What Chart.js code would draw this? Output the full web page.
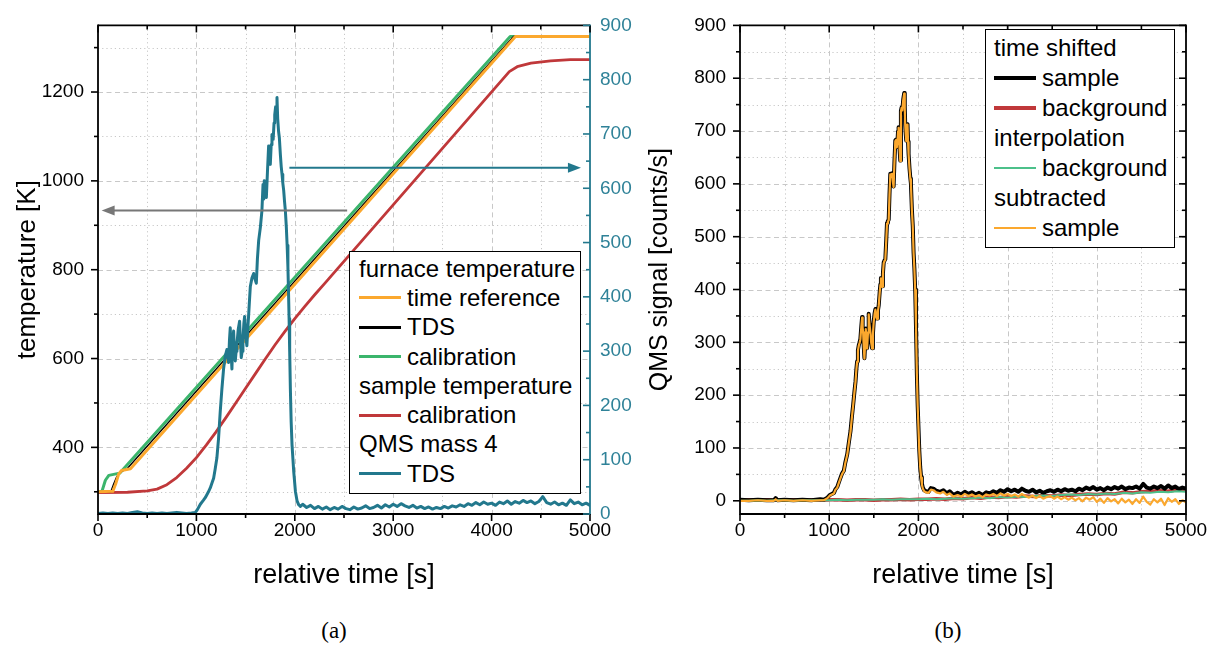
<!DOCTYPE html>
<html>
<head>
<meta charset="utf-8">
<script src="https://cdn.jsdelivr.net/npm/chart.js@4.4.1/dist/chart.umd.min.js"></script>
<style>
  body { margin: 0; background: #fff; font-family: "Liberation Sans", Arial, sans-serif; }
  #page { position: relative; width: 1213px; height: 648px; overflow: hidden; }
  .panel { position: absolute; top: 0; height: 600px; }
  .legend { position: absolute; background: #fff; border: 1.5px solid #000; font-size: 24px; color: #000; box-sizing: border-box; }
  .legend .row { display: flex; align-items: center; white-space: nowrap; }
  .legend .swatch { display: inline-block; width: 42px; margin-right: 6px; }
  .caption { position: absolute; top: 618px; width: 60px; text-align: center; font-family: "Liberation Serif", serif; font-size: 23px; }
</style>
</head>
<body>
<div id="page">
  <div class="panel" style="left:0; width:660px"><canvas id="chartA"></canvas></div>
  <div class="panel" style="left:630px; width:583px"><canvas id="chartB"></canvas></div>
  <div class="legend" id="legendA" style="left:349px; top:251px; width:232px; height:243px; padding:2px 0 0 9px"></div>
  <div class="legend" id="legendB" style="left:985px; top:29px; width:190px; height:219px; padding:3px 0 0 8px"></div>
  <div class="caption" style="left:304px">(a)</div>
  <div class="caption" style="left:918px">(b)</div>
</div>
<script>
// === colours ===
const ORANGE = "#fba82e";
const GREEN = "#3bb56c";
const RED = "#c0383a";
const TEAL = "#22788d";
const TEAL_TXT = "#2f8298";
const GREEN_B = "#4cc08a";

// === axis ticks ===
const timeTicks = [0, 500, 1000, 1500, 2000, 2500, 3000, 3500, 4000, 4500, 5000];
const timeLabels = [0, 1000, 2000, 3000, 4000, 5000];
const tempTicks = [300, 400, 500, 600, 700, 800, 900, 1000, 1100, 1200, 1300];
const tempLabels = [400, 600, 800, 1000, 1200];
const countTicks = [0, 50, 100, 150, 200, 250, 300, 350, 400, 450, 500, 550, 600, 650, 700, 750, 800, 850, 900];
const countLabels = [0, 100, 200, 300, 400, 500, 600, 700, 800, 900];

// === panel (a): furnace + sample temperature [K] ===
const furnaceRefTime = [0, 150, 180, 210, 240, 330, 4242, 5000];
const furnaceRefTemp = [300, 301, 318, 340, 348, 352, 1325, 1325];
const furnaceTdsTime = [0, 130, 160, 190, 230, 300, 4223, 5000];
const furnaceTdsTemp = [300, 300, 318, 334, 344, 353, 1325, 1325];
const furnaceCalTime = [0, 40, 75, 110, 220, 4189, 5000];
const furnaceCalTemp = [300, 301, 326, 337, 342, 1325, 1325];
const sampleCalTime = [0, 300, 500, 600, 700, 800, 900, 1000, 1100, 1200, 1300, 1400, 1500,
  1600, 1700, 1800, 1900, 2000, 2100, 2200, 2300, 4180, 4260, 4400, 4600, 4800, 4990];
const sampleCalTemp = [298, 299, 302, 306, 316, 332, 353, 377, 405, 435, 467, 500, 533,
  566, 599, 631, 661, 690, 717, 743, 768, 1246, 1257, 1265, 1270, 1273, 1273];

// === panel (a): QMS mass 4, TDS [counts/s] ===
const tdsTime = [
  0, 50, 100, 150, 200, 250, 300, 350, 400, 450,
  500, 550, 600, 650, 700, 750, 800, 850, 900,
  950, 990, 1010, 1040, 1070, 1090, 1120, 1141, 1160, 1175,
  1190, 1208, 1225, 1242, 1259, 1276, 1293, 1310, 1320, 1327,
  1336, 1344, 1352, 1361, 1370, 1378, 1387, 1395, 1404, 1412,
  1425, 1439, 1447, 1456, 1465, 1473, 1482, 1490, 1500, 1513,
  1522, 1530, 1540, 1548, 1565, 1582, 1600, 1609, 1620, 1633,
  1650, 1666, 1677, 1684, 1690, 1700, 1711, 1722, 1734, 1742,
  1751, 1760, 1768, 1780, 1789, 1796, 1805, 1812, 1819, 1826,
  1835, 1843, 1853, 1862, 1870, 1878, 1887, 1896, 1904, 1914,
  1922, 1930, 1936, 1942, 1948, 1955, 1963, 1972, 1989, 2006,
  2023, 2040, 2057,
  2080, 2120, 2160, 2200, 2240, 2280, 2320, 2360, 2400, 2440,
  2480, 2520, 2560, 2600, 2640, 2680, 2720, 2760, 2800, 2840,
  2880, 2920, 2960, 3000, 3040, 3080, 3120, 3160, 3200, 3240,
  3280, 3320, 3360, 3400, 3440, 3480, 3520, 3560, 3600, 3640,
  3680, 3720, 3760, 3800, 3840, 3880, 3920, 3960, 4000, 4040,
  4080, 4120, 4160, 4200, 4240, 4280, 4320, 4360, 4400, 4440,
  4480, 4520, 4560, 4600, 4640, 4680, 4720, 4760, 4800, 4840,
  4880, 4920, 4960, 5000
];
const tdsCounts = [
  1, 2, 1, 2, 1, 2, 1, 3, 4, 2,
  1, 2, 1, 2, 1, 2, 3, 2, 1,
  2, 3, 8, 18, 25, 30, 40, 48, 58, 66,
  82, 103, 139, 188, 230, 267, 291, 303, 290, 279,
  320, 343, 300, 267, 320, 337, 300, 282, 300, 313,
  340, 355, 320, 288, 300, 322, 350, 364, 330, 310,
  340, 364, 395, 419, 435, 443, 430, 425, 470, 504,
  528, 559, 607, 580, 614, 600, 583, 630, 678, 660,
  644, 680, 699, 690, 720, 735, 750, 745, 767, 729,
  705, 693, 663, 640, 626, 610, 596, 575, 559, 528,
  495, 455, 410, 360, 300, 230, 170, 127, 78, 42,
  24, 17, 14,
  18, 12, 16, 10, 14, 9, 13, 8, 12, 9,
  14, 10, 8, 13, 9, 11, 15, 10, 12, 16,
  11, 17, 13, 18, 14, 19, 15, 12, 16, 11,
  14, 10, 13, 9, 12, 10, 14, 11, 15, 13,
  17, 14, 19, 16, 21, 17, 22, 18, 20, 16,
  22, 19, 24, 18, 23, 20, 25, 21, 24, 19,
  23, 32, 21, 18, 22, 17, 20, 16, 26, 19,
  22, 17, 20, 16
];

// === panel (b): time shifted sample / subtracted sample [counts/s] ===
const shiftTime = [
  0, 100, 200, 300, 380, 400, 420, 500, 600, 700,
  800, 900, 941, 980, 1008, 1030, 1053, 1070, 1090, 1110,
  1127, 1145, 1164, 1180, 1202, 1220, 1239, 1255, 1269, 1282,
  1295, 1305, 1313, 1322, 1332, 1341, 1350, 1360, 1369, 1375,
  1380, 1388, 1395, 1403, 1410, 1418, 1425, 1435, 1443, 1452,
  1462, 1471, 1481, 1490, 1499, 1509, 1518, 1527, 1537, 1546,
  1555, 1566, 1574, 1580, 1592, 1602, 1611, 1620, 1629, 1640,
  1648, 1658, 1667, 1676, 1685, 1695, 1705, 1714, 1722, 1731,
  1741, 1750, 1758, 1767, 1772, 1778, 1788, 1797, 1804, 1812,
  1820, 1830, 1841, 1847, 1852, 1858, 1864, 1871, 1878, 1884,
  1890, 1900, 1910, 1916, 1927, 1937, 1946, 1955, 1964, 1973,
  1983, 1992, 2002, 2010, 2020, 2030, 2039, 2050, 2065, 2085,
  2113, 2140, 2169, 2200, 2244, 2280, 2318, 2350, 2393, 2440,
  2480, 2520, 2560, 2600, 2640, 2680, 2720, 2760, 2800, 2840,
  2880, 2920, 2960, 3000, 3040, 3080, 3120, 3160, 3200, 3240,
  3280, 3320, 3360, 3400, 3440, 3480, 3520, 3560, 3600, 3640,
  3680, 3720, 3760, 3800, 3840, 3880, 3920, 3960, 4000, 4040,
  4080, 4120, 4160, 4200, 4240, 4280, 4320, 4360, 4400, 4440,
  4480, 4520, 4560, 4600, 4640, 4680, 4720, 4760, 4800, 4840,
  4880, 4920, 4960, 5000
];
const shiftSample = [
  2, 1, 2, 1, 1, 5, 1, 2, 1, 2,
  1, 3, 2, 6, 11, 13, 15, 22, 26, 36,
  44, 52, 57, 72, 88, 110, 132, 160, 182, 205,
  226, 250, 264, 285, 295, 300, 307, 330, 348, 330,
  320, 290, 270, 300, 326, 305, 289, 320, 354, 335,
  320, 300, 289, 315, 339, 355, 363, 350, 345, 360,
  370, 395, 410, 422, 406, 430, 451, 455, 457, 495,
  526, 530, 532, 580, 619, 618, 620, 605, 595, 640,
  682, 684, 670, 685, 700, 707, 670, 644, 738, 745,
  740, 760, 772, 745, 713, 695, 682, 700, 713, 680,
  657, 630, 610, 601, 551, 520, 470, 440, 400, 330,
  239, 180, 133, 95, 64, 45, 33, 25, 20, 18,
  17, 24, 23, 19, 17, 20, 14, 18, 11, 15,
  12, 17, 13, 16, 12, 15, 11, 16, 14, 18,
  15, 20, 17, 22, 18, 21, 17, 23, 19, 17,
  21, 16, 19, 15, 18, 20, 17, 21, 18, 22,
  19, 21, 18, 23, 20, 25, 22, 26, 21, 24,
  20, 25, 22, 26, 23, 27, 22, 25, 24, 27,
  23, 32, 25, 23, 27, 24, 28, 23, 29, 24,
  27, 22, 25, 23
];
const subtractedSample = [
  0, 0, 1, 0, 0, 3, 0, 1, 0, 1,
  0, 1, 1, 5, 10, 12, 14, 21, 25, 35,
  43, 51, 56, 71, 87, 109, 131, 159, 181, 204,
  225, 249, 263, 284, 294, 299, 306, 329, 347, 329,
  319, 289, 269, 299, 325, 304, 288, 319, 353, 334,
  319, 299, 288, 314, 338, 354, 362, 349, 344, 359,
  369, 394, 409, 421, 405, 429, 450, 454, 456, 494,
  525, 529, 531, 579, 618, 617, 619, 604, 594, 639,
  681, 683, 669, 684, 699, 706, 669, 643, 737, 744,
  739, 759, 771, 744, 712, 694, 681, 699, 712, 679,
  656, 629, 609, 600, 550, 519, 469, 439, 399, 329,
  238, 179, 132, 94, 63, 44, 31, 23, 18, 16,
  15, 21, 20, 16, 14, 17, 11, 14, 8, 11,
  8, 13, 9, 12, 8, 11, 7, 12, 10, 13,
  9, 14, 10, 13, 9, 12, 8, 13, 9, 6,
  10, 5, 9, 4, 7, 9, 4, 8, 3, 7,
  2, 6, 1, 5, -1, 6, 2, 7, -2, 4,
  -4, 5, -1, 3, -5, 4, -3, 2, -6, 3,
  -4, 8, -2, -7, 3, -3, 4, -8, 5, -2,
  3, -6, 1, -3
];

// === panel (b): backgrounds [counts/s] ===
const bgTime = [
  0, 100, 200, 300, 400, 500, 600, 700, 800, 900,
  1000, 1100, 1200, 1300, 1400, 1500, 1600, 1700, 1800, 1900,
  2000, 2100, 2200, 2300, 2400, 2500, 2600, 2700, 2800, 2900,
  3000, 3100, 3200, 3300, 3400, 3500, 3600, 3700, 3800, 3900,
  4000, 4100, 4200, 4300, 4400, 4500, 4600, 4700, 4800, 4900,
  5000
];
const shiftBackground = [
  1, 2, 1, 2, 1, 2, 2, 1, 2, 1,
  2, 2, 1, 2, 2, 1, 2, 2, 3, 2,
  3, 3, 4, 3, 5, 4, 6, 5, 7, 6,
  8, 7, 9, 8, 10, 9, 11, 10, 12, 13,
  12, 14, 13, 16, 15, 17, 18, 19, 18, 21,
  20
];
const interpBackground = [
  0, 0, 1, 0, 1, 1, 0, 1, 1, 1,
  1, 2, 1, 2, 2, 2, 3, 2, 3, 3,
  3, 4, 3, 4, 5, 4, 5, 6, 5, 7,
  6, 8, 7, 9, 10, 9, 11, 12, 11, 13,
  12, 14, 13, 15, 14, 16, 15, 17, 16, 18,
  17
];

// === arrows (data units) ===
const arrowTemp = { y: 933, from: 2532, to: 37 };
const arrowCounts = { y: 638, from: 1945, to: 4908 };

// === legends ===
const legendA = [
  ["furnace temperature"],
  ["time reference", ORANGE, 3],
  ["TDS", "#000", 3],
  ["calibration", GREEN, 3],
  ["sample temperature"],
  ["calibration", RED, 3],
  ["QMS mass 4"],
  ["TDS", TEAL, 3]
];
const legendB = [
  ["time shifted"],
  ["sample", "#000", 4],
  ["background", RED, 4],
  ["interpolation"],
  ["background", GREEN_B, 2],
  ["subtracted"],
  ["sample", ORANGE, 2]
];

function buildLegend(id, rows, rowH) {
  const box = document.getElementById(id);
  rows.forEach(([text, color, w]) => {
    const row = document.createElement("div");
    row.className = "row";
    row.style.height = rowH + "px";
    if (color) {
      const sw = document.createElement("span");
      sw.className = "swatch";
      sw.style.borderTop = w + "px solid " + color;
      row.appendChild(sw);
    }
    row.appendChild(document.createTextNode(text));
    box.appendChild(row);
  });
}
buildLegend("legendA", legendA, 29.3);
buildLegend("legendB", legendB, 30);

const pts = (xs, ys) => xs.map((x, i) => ({ x, y: ys[i] }));
const FONT = "Liberation Sans";

// === frame plugin: grid, box, tick marks, arrows ===
const frame = {
  id: "frame",
  beforeDatasetsDraw(chart, args, o) {
    const { ctx, chartArea: a } = chart;
    const xs = chart.scales.x, ys = chart.scales[o.gridY];
    ctx.save();
    ctx.lineWidth = 1;
    ctx.strokeStyle = "#c8c8c8";
    xs.ticks.forEach(t => {
      const px = Math.round(xs.getPixelForValue(t.value)) + 0.5;
      if (px <= a.left + 2 || px >= a.right - 2) return;
      ctx.setLineDash(t.value % o.xMajor === 0 ? [5, 3.5] : [1.2, 3]);
      ctx.beginPath(); ctx.moveTo(px, a.top); ctx.lineTo(px, a.bottom); ctx.stroke();
    });
    ys.ticks.forEach(t => {
      const py = Math.round(ys.getPixelForValue(t.value)) + 0.5;
      if (py <= a.top + 2 || py >= a.bottom - 2) return;
      ctx.setLineDash(t.value % o.yMajor === 0 ? [5, 3.5] : [1.2, 3]);
      ctx.beginPath(); ctx.moveTo(a.left, py); ctx.lineTo(a.right, py); ctx.stroke();
    });
    ctx.restore();
  },
  afterDatasetsDraw(chart, args, o) {
    const { ctx, chartArea: a } = chart;
    ctx.save();
    // arrows
    (o.arrows || []).forEach(ar => {
      const sy = chart.scales[ar.scale];
      const y = sy.getPixelForValue(ar.y);
      const x0 = chart.scales.x.getPixelForValue(ar.from);
      const x1 = chart.scales.x.getPixelForValue(ar.to);
      const dir = Math.sign(x1 - x0);
      ctx.strokeStyle = ar.color; ctx.fillStyle = ar.color; ctx.lineWidth = 2;
      ctx.beginPath(); ctx.moveTo(x0, y); ctx.lineTo(x1 - dir * 10, y); ctx.stroke();
      ctx.beginPath();
      ctx.moveTo(x1, y); ctx.lineTo(x1 - dir * 13, y - 5); ctx.lineTo(x1 - dir * 13, y + 5);
      ctx.closePath(); ctx.fill();
    });
    // box
    ctx.lineWidth = 1.8;
    const side = (c, x0, y0, x1, y1) => {
      ctx.strokeStyle = c; ctx.beginPath(); ctx.moveTo(x0, y0); ctx.lineTo(x1, y1); ctx.stroke();
    };
    side(o.box.top, a.left, a.top, a.right, a.top);
    side(o.box.bottom, a.left, a.bottom, a.right, a.bottom);
    side(o.box.left, a.left, a.top - 0.9, a.left, a.bottom + 0.9);
    side(o.box.right, a.right, a.top - 0.9, a.right, a.bottom + 0.9);
    // tick marks
    ctx.lineWidth = 1.6;
    o.marks.forEach(m => {
      const sc = chart.scales[m.scale];
      ctx.strokeStyle = m.color;
      sc.ticks.forEach(t => {
        const len = (t.value % m.major === 0 ? 7 : 4) * (m.out ? 1 : -1);
        const p = sc.getPixelForValue(t.value);
        ctx.beginPath();
        if (m.side === "bottom") { ctx.moveTo(p, a.bottom); ctx.lineTo(p, a.bottom + len); }
        if (m.side === "top") { ctx.moveTo(p, a.top); ctx.lineTo(p, a.top - len); }
        if (m.side === "left") { ctx.moveTo(a.left, p); ctx.lineTo(a.left - len, p); }
        if (m.side === "right") { ctx.moveTo(a.right, p); ctx.lineTo(a.right + len, p); }
        ctx.stroke();
      });
    });
    ctx.restore();
  }
};

const fixTicks = arr => axis => { axis.ticks = arr.map(v => ({ value: v })); };
const labelIf = arr => v => (arr.includes(v) ? String(v) : "");

function timeAxis() {
  return {
    type: "linear", min: 0, max: 5000,
    afterBuildTicks: fixTicks(timeTicks),
    afterFit: s => { s.height = 86; },
    grid: { display: false, drawTicks: false },
    border: { display: false },
    ticks: { autoSkip: false, maxRotation: 0, padding: 5, color: "#000",
      font: { family: FONT, size: 19 }, callback: labelIf(timeLabels) },
    title: { display: true, text: "relative time [s]", color: "#000",
      font: { family: FONT, size: 27 }, padding: { top: 0, bottom: 8 } }
  };
}

const lineDefaults = { point: { radius: 0 }, line: { tension: 0, borderJoinStyle: "round", borderCapStyle: "round", fill: false } };

// === chart (a) ===
new Chart(document.getElementById("chartA"), {
  type: "line",
  data: {
    datasets: [
      { label: "QMS mass 4 TDS", data: pts(tdsTime, tdsCounts), yAxisID: "yR", borderColor: TEAL, borderWidth: 3 },
      { label: "furnace time reference", data: pts(furnaceRefTime, furnaceRefTemp), yAxisID: "y", borderColor: ORANGE, borderWidth: 3 },
      { label: "furnace TDS", data: pts(furnaceTdsTime, furnaceTdsTemp), yAxisID: "y", borderColor: "#000", borderWidth: 1.4 },
      { label: "furnace calibration", data: pts(furnaceCalTime, furnaceCalTemp), yAxisID: "y", borderColor: GREEN, borderWidth: 3 },
      { label: "sample calibration", data: pts(sampleCalTime, sampleCalTemp), yAxisID: "y", borderColor: RED, borderWidth: 2.8 }
    ]
  },
  options: {
    animation: false, responsive: true, maintainAspectRatio: false,
    layout: { padding: { top: 23, left: 0, right: 0, bottom: 0 } },
    elements: lineDefaults,
    plugins: {
      legend: { display: false }, tooltip: { enabled: false },
      frame: {
        gridY: "y", xMajor: 1000, yMajor: 200,
        box: { left: "#000", top: "#000", bottom: "#000", right: TEAL },
        marks: [
          { scale: "x", side: "bottom", out: true, major: 1000, color: "#000" },
          { scale: "x", side: "top", out: false, major: 1000, color: "#000" },
          { scale: "y", side: "left", out: true, major: 200, color: "#000" },
          { scale: "yR", side: "right", out: false, major: 100, color: TEAL }
        ],
        arrows: [
          { scale: "y", y: arrowTemp.y, from: arrowTemp.from, to: arrowTemp.to, color: "#777" },
          { scale: "yR", y: arrowCounts.y, from: arrowCounts.from, to: arrowCounts.to, color: TEAL }
        ]
      }
    },
    scales: {
      x: timeAxis(),
      y: {
        type: "linear", position: "left", min: 250, max: 1350,
        afterBuildTicks: fixTicks(tempTicks),
        afterFit: s => { s.width = 98; },
        grid: { display: false, drawTicks: false }, border: { display: false },
        ticks: { autoSkip: false, padding: 14, color: "#000", font: { family: FONT, size: 19 }, callback: labelIf(tempLabels) },
        title: { display: true, text: "temperature [K]", color: "#000", font: { family: FONT, size: 26 }, padding: { top: 12, bottom: 0 } }
      },
      yR: {
        type: "linear", position: "right", min: 0, max: 900,
        afterBuildTicks: fixTicks(countTicks),
        afterFit: s => { s.width = 70; },
        grid: { display: false, drawTicks: false }, border: { display: false },
        ticks: { autoSkip: false, padding: 10, color: TEAL_TXT, font: { family: FONT, size: 19 }, callback: labelIf(countLabels) }
      }
    }
  },
  plugins: [frame]
});

// === chart (b) ===
new Chart(document.getElementById("chartB"), {
  type: "line",
  data: {
    datasets: [
      { label: "subtracted sample", data: pts(shiftTime, subtractedSample), borderColor: ORANGE, borderWidth: 2.2 },
      { label: "interpolation background", data: pts(bgTime, interpBackground), borderColor: GREEN_B, borderWidth: 2 },
      { label: "time shifted sample", data: pts(shiftTime, shiftSample), borderColor: "#000", borderWidth: 4 },
      { label: "time shifted background", data: pts(bgTime, shiftBackground), borderColor: RED, borderWidth: 3.5 }
    ]
  },
  options: {
    animation: false, responsive: true, maintainAspectRatio: false,
    layout: { padding: { top: 20, left: 0, right: 27, bottom: 0 } },
    elements: lineDefaults,
    plugins: {
      legend: { display: false }, tooltip: { enabled: false },
      frame: {
        gridY: "y", xMajor: 1000, yMajor: 100,
        box: { left: "#000", top: "#000", bottom: "#000", right: "#000" },
        marks: [
          { scale: "x", side: "bottom", out: true, major: 1000, color: "#000" },
          { scale: "x", side: "top", out: false, major: 1000, color: "#000" },
          { scale: "y", side: "left", out: true, major: 100, color: "#000" },
          { scale: "y", side: "right", out: false, major: 100, color: "#000" }
        ]
      }
    },
    scales: {
      x: timeAxis(),
      y: {
        type: "linear", position: "left", min: -25, max: 900,
        afterBuildTicks: fixTicks(countTicks),
        afterFit: s => { s.width = 110; },
        grid: { display: false, drawTicks: false }, border: { display: false },
        ticks: { autoSkip: false, padding: 14, color: "#000", font: { family: FONT, size: 19 }, callback: labelIf(countLabels) },
        title: { display: true, text: "QMS signal [counts/s]", color: "#000", font: { family: FONT, size: 25 }, padding: { top: 15, bottom: 0 } }
      }
    }
  },
  plugins: [frame]
});
</script>
</body>
</html>
